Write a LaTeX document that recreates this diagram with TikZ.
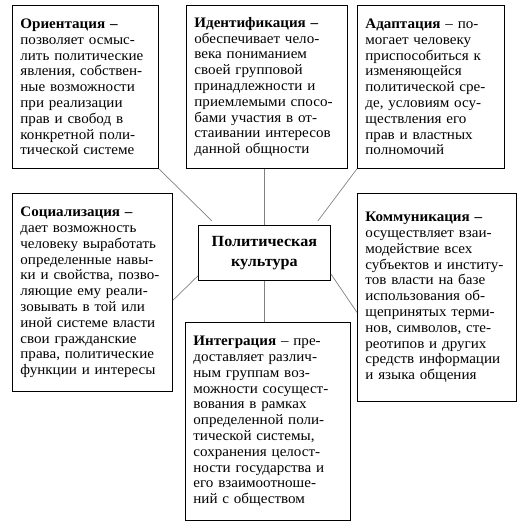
\documentclass[tikz,border=0pt]{standalone}
\usepackage{fontspec}
\setmainfont{Liberation Serif}[FakeStretch=1.04]
\usetikzlibrary{calc}

\begin{document}
\begin{tikzpicture}[
  x=1pt, y=-1pt,
  func/.style={rectangle, draw=black, line width=0.8pt, anchor=north west,
    align=left, inner xsep=8pt, inner ysep=0pt,
    font=\fontsize{14.5}{15.8}\selectfont},
  core/.style={rectangle, draw=black, line width=0.8pt, anchor=north west,
    align=center, inner sep=0pt, font=\fontsize{15.5}{20}\selectfont\bfseries},
  link/.style={draw=gray, line width=0.7pt}
]
  \useasboundingbox (0,0) rectangle (532,530);

  %% centre
  \node[core, minimum width=132pt, minimum height=55pt] (culture) at (198,225)
    {Политическая\\культура};

  %% upper row
  \node[func, text width=130pt, minimum height=163pt] (orient) at (12,5)
    {\textbf{Ориентация –}\\
     позволяет осмыс-\\
     лить политические\\
     явления, собствен-\\
     ные возможности\\
     при реализации\\
     прав и свобод в\\
     конкретной поли-\\
     тической системе};
  \node[func, text width=145pt, minimum height=163pt] (ident) at (186,5)
    {\textbf{Идентификация –}\\
     обеспечивает чело-\\
     века пониманием\\
     своей групповой\\
     принадлежности и\\
     приемлемыми спосо-\\
     бами участия в от-\\
     стаивании интересов\\
     данной общности};
  \node[func, text width=131pt, minimum height=163pt] (adapt) at (357,5)
    {\textbf{Адаптация} – по-\\
     могает человеку\\
     приспособиться к\\
     изменяющейся\\
     политической сре-\\
     де, условиям осу-\\
     ществления его\\
     прав и властных\\
     полномочий};

  %% middle and lower row
  \node[func, text width=144pt, minimum height=198pt] (social) at (12,193)
    {\textbf{Социализация –}\\
     дает возможность\\
     человеку выработать\\
     определенные навы-\\
     ки и свойства, позво-\\
     ляющие ему реали-\\
     зовывать в той или\\
     иной системе власти\\
     свои гражданские\\
     права, политические\\
     функции и интересы};
  \node[func, text width=143pt, minimum height=208pt] (comm) at (357,193)
    {\textbf{Коммуникация –}\\
     осуществляет взаи-\\
     модействие всех\\
     субъектов и институ-\\
     тов власти на базе\\
     использования об-\\
     щепринятых терми-\\
     нов, символов, сте-\\
     реотипов и других\\
     средств информации\\
     и языка общения};
  \node[func, text width=149pt, minimum height=198pt] (integr) at (185,322)
    {\textbf{Интеграция} – пре-\\
     доставляет различ-\\
     ным группам воз-\\
     можности сосущест-\\
     вования в рамках\\
     определенной поли-\\
     тической системы,\\
     сохранения целост-\\
     ности государства и\\
     его взаимоотноше-\\
     ний с обществом};

  %% links to the centre
  \draw[link] (orient.south east) -- ($(culture.north west)+(14,-4)$);
  \draw[link] (ident.south -| culture.north) -- (culture.north);
  \draw[link] (adapt.south west) -- ($(culture.north east)+(-13,-4)$);
  \draw[link] ($(social.east)+(0,8)$) -- ($(culture.south west)+(0,-5)$);
  \draw[link] (culture.south) -- (culture.south |- integr.north);
  \draw[link] ($(culture.south east)+(0,-7)$) -- ($(comm.west)+(0,15)$);
\end{tikzpicture}
\end{document}
